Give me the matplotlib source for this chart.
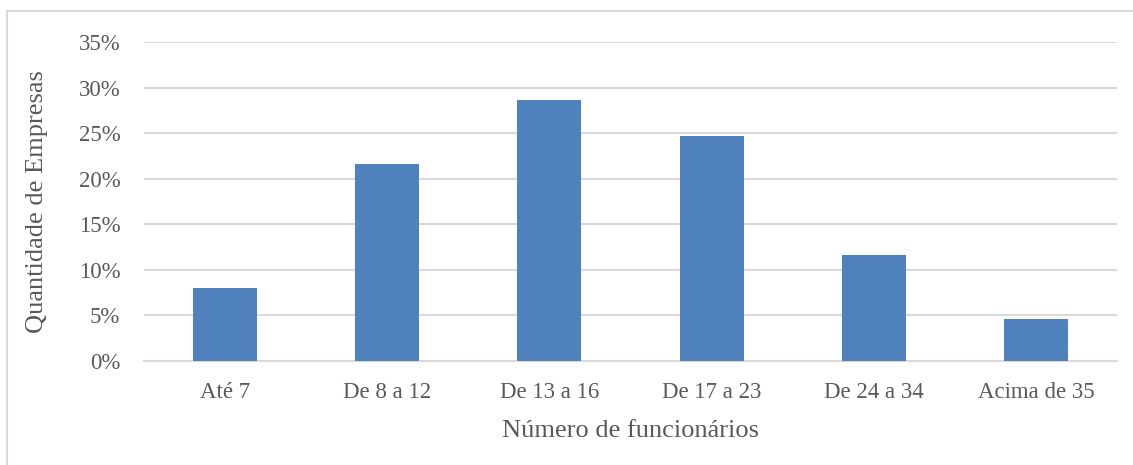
import matplotlib
matplotlib.use("Agg")
import matplotlib.pyplot as plt
from matplotlib.patches import Rectangle
from matplotlib.ticker import PercentFormatter

categories = ["Até 7", "De 8 a 12", "De 13 a 16", "De 17 a 23", "De 24 a 34", "Acima de 35"]
shares = [8.0, 21.6, 28.6, 24.7, 11.6, 4.6]
y_ticks = [0, 5, 10, 15, 20, 25, 30, 35]

W, H = 1133, 465
plt.rcParams["font.family"] = ["Liberation Serif", "DejaVu Serif"]
text_color = "#595959"
grid_color = "#d9d9d9"
bar_color = "#4f81bd"

fig = plt.figure(figsize=(W / 100, H / 100), dpi=100)

# Chart frame (extends past the right and bottom edges)
fig.patches.append(Rectangle((7 / W, -0.1), 1.2, 1 - 11.5 / H + 0.1,
                             transform=fig.transFigure, fill=False,
                             edgecolor=grid_color, linewidth=1.5))

ax = fig.add_axes([144 / W, 1 - 361 / H, (1117 - 144) / W, (361 - 42) / H])
x = range(len(categories))
ax.bar(x, shares, width=0.395, color=bar_color, zorder=3)

ax.set_xlim(-0.5, len(categories) - 0.5)
ax.set_ylim(0, 35)
ax.set_yticks(y_ticks)
ax.yaxis.set_major_formatter(PercentFormatter(decimals=0))
ax.set_xticks(list(x))
ax.set_xticklabels(categories)

ax.grid(axis="y", color=grid_color, linewidth=1.5, zorder=0)
for s in ["top", "right", "left"]:
    ax.spines[s].set_visible(False)
ax.spines["bottom"].set_color(grid_color)
ax.spines["bottom"].set_linewidth(1.5)
ax.tick_params(axis="both", length=0, labelsize=16.5, colors=text_color)
ax.tick_params(axis="x", pad=15)
ax.tick_params(axis="y", pad=17)

ax.set_xlabel("Número de funcionários", fontsize=19, color=text_color, labelpad=12)
ax.set_ylabel("Quantidade de Empresas", fontsize=19, color=text_color, labelpad=22)

fig.savefig("out.png", dpi=100)
